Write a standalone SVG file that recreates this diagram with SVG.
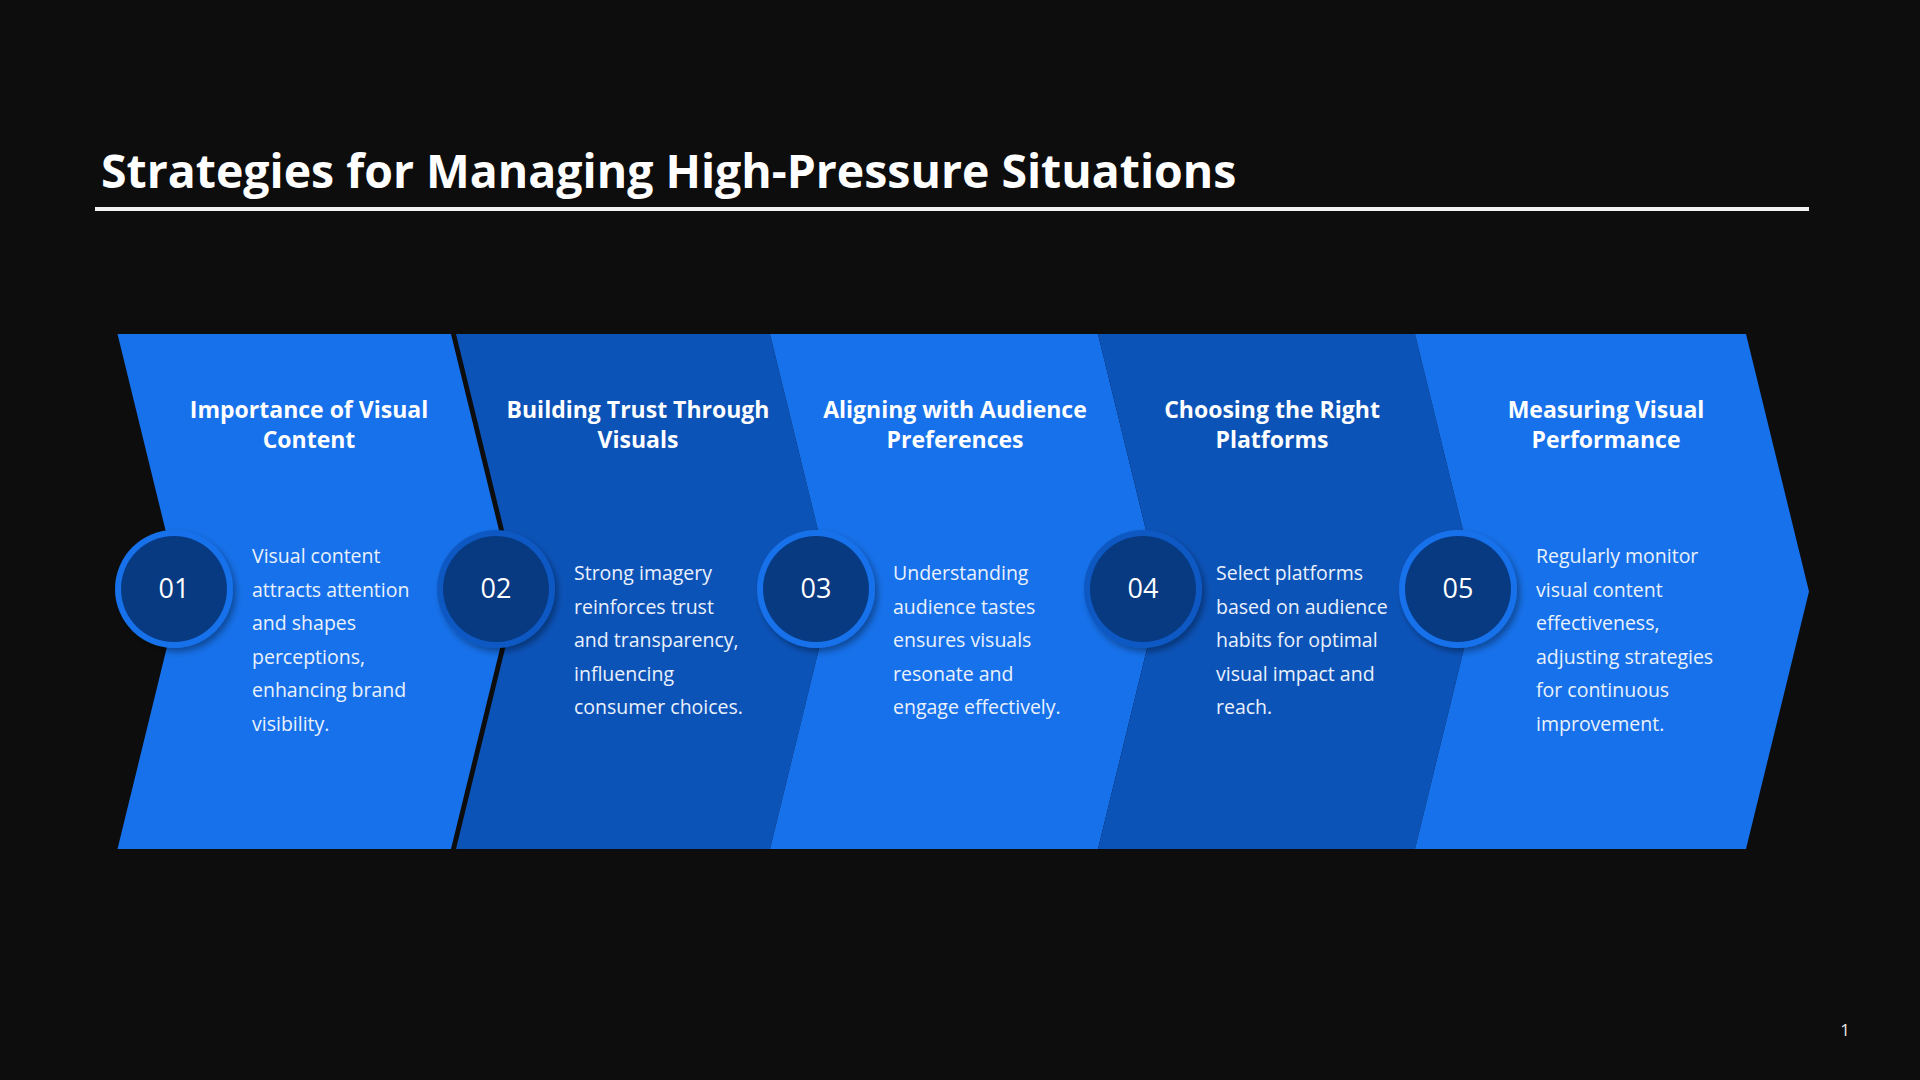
<svg xmlns="http://www.w3.org/2000/svg" width="1920" height="1080" viewBox="0 0 1920 1080">
  <defs>
    <filter id="sh" x="-30%" y="-30%" width="160%" height="160%">
      <feDropShadow dx="3" dy="4" stdDeviation="3" flood-color="#000000" flood-opacity="0.35"/>
    </filter>
    <style>
      .title { font-family: "Open Sans", "Liberation Sans", sans-serif; font-weight: 700; font-size: 46.4px; fill: #ffffff; }
      .head { font-family: "Open Sans", "Liberation Sans", sans-serif; font-weight: 700; font-size: 23px; fill: #ffffff; text-anchor: middle; }
      .body { font-family: "Open Sans", "Liberation Sans", sans-serif; font-weight: 400; font-size: 19.5px; fill: #eaf1fc; }
      .num { font-family: "Open Sans", "Liberation Sans", sans-serif; font-weight: 400; font-size: 27px; fill: #ffffff; text-anchor: middle; }
      .light { fill: #1771ea; }
      .dark { fill: #0c53b8; }
      .inner { fill: #083a82; }
      .pg { font-family: "Open Sans", "Liberation Sans", sans-serif; font-size: 17px; fill: #e6e6e6; text-anchor: middle; }
    </style>
  </defs>
  <rect x="0" y="0" width="1920" height="1080" fill="#0d0d0d"/>

  <g id="title">
    <text class="title" x="101" y="188">Strategies for Managing High-Pressure Situations</text>
    <rect x="95" y="207" width="1714" height="4" fill="#f2f2f2"/>
  </g>

  <g id="step1">
    <polygon class="light" points="117.5,334 451,334 514,591.5 451,849 117.5,849 180.5,591.5"/>
    <circle cx="174" cy="589" r="59" class="light" filter="url(#sh)"/>
    <circle cx="174" cy="589" r="53" class="inner"/>
    <text class="num" x="174" y="598">01</text>
    <text class="head"><tspan x="309" y="418">Importance of Visual</tspan><tspan x="309" y="448">Content</tspan></text>
    <text class="body"><tspan x="252" y="563">Visual content</tspan><tspan x="252" y="596.6">attracts attention</tspan><tspan x="252" y="630.2">and shapes</tspan><tspan x="252" y="663.8">perceptions,</tspan><tspan x="252" y="697.4">enhancing brand</tspan><tspan x="252" y="731">visibility.</tspan></text>
  </g>

  <g id="step2">
    <polygon class="dark" points="456,334 770,334 833,591.5 770,849 456,849 519,591.5"/>
    <circle cx="496" cy="589" r="59" fill="#0d58c2" filter="url(#sh)"/>
    <circle cx="496" cy="589" r="53" class="inner"/>
    <text class="num" x="496" y="598">02</text>
    <text class="head"><tspan x="638" y="418">Building Trust Through</tspan><tspan x="638" y="448">Visuals</tspan></text>
    <text class="body"><tspan x="574" y="580">Strong imagery</tspan><tspan x="574" y="613.6">reinforces trust</tspan><tspan x="574" y="647.2">and transparency,</tspan><tspan x="574" y="680.8">influencing</tspan><tspan x="574" y="714.4">consumer choices.</tspan></text>
  </g>

  <g id="step3">
    <polygon class="light" points="770,334 1098,334 1161,591.5 1098,849 770,849 833,591.5"/>
    <circle cx="816" cy="589" r="59" class="light" filter="url(#sh)"/>
    <circle cx="816" cy="589" r="53" class="inner"/>
    <text class="num" x="816" y="598">03</text>
    <text class="head"><tspan x="955" y="418">Aligning with Audience</tspan><tspan x="955" y="448">Preferences</tspan></text>
    <text class="body"><tspan x="893" y="580">Understanding</tspan><tspan x="893" y="613.6">audience tastes</tspan><tspan x="893" y="647.2">ensures visuals</tspan><tspan x="893" y="680.8">resonate and</tspan><tspan x="893" y="714.4">engage effectively.</tspan></text>
  </g>

  <g id="step4">
    <polygon class="dark" points="1098,334 1415,334 1478,591.5 1415,849 1098,849 1161,591.5"/>
    <circle cx="1143" cy="589" r="59" fill="#0d58c2" filter="url(#sh)"/>
    <circle cx="1143" cy="589" r="53" class="inner"/>
    <text class="num" x="1143" y="598">04</text>
    <text class="head"><tspan x="1272" y="418">Choosing the Right</tspan><tspan x="1272" y="448">Platforms</tspan></text>
    <text class="body"><tspan x="1216" y="580">Select platforms</tspan><tspan x="1216" y="613.6">based on audience</tspan><tspan x="1216" y="647.2">habits for optimal</tspan><tspan x="1216" y="680.8">visual impact and</tspan><tspan x="1216" y="714.4">reach.</tspan></text>
  </g>

  <g id="step5">
    <polygon class="light" points="1415,334 1746,334 1809,591.5 1746,849 1415,849 1478,591.5"/>
    <circle cx="1458" cy="589" r="59" class="light" filter="url(#sh)"/>
    <circle cx="1458" cy="589" r="53" class="inner"/>
    <text class="num" x="1458" y="598">05</text>
    <text class="head"><tspan x="1606" y="418">Measuring Visual</tspan><tspan x="1606" y="448">Performance</tspan></text>
    <text class="body"><tspan x="1536" y="563">Regularly monitor</tspan><tspan x="1536" y="596.6">visual content</tspan><tspan x="1536" y="630.2">effectiveness,</tspan><tspan x="1536" y="663.8">adjusting strategies</tspan><tspan x="1536" y="697.4">for continuous</tspan><tspan x="1536" y="731">improvement.</tspan></text>
  </g>

  <g id="connectors"/>

  <text class="pg" x="1845" y="1036">1</text>
</svg>
